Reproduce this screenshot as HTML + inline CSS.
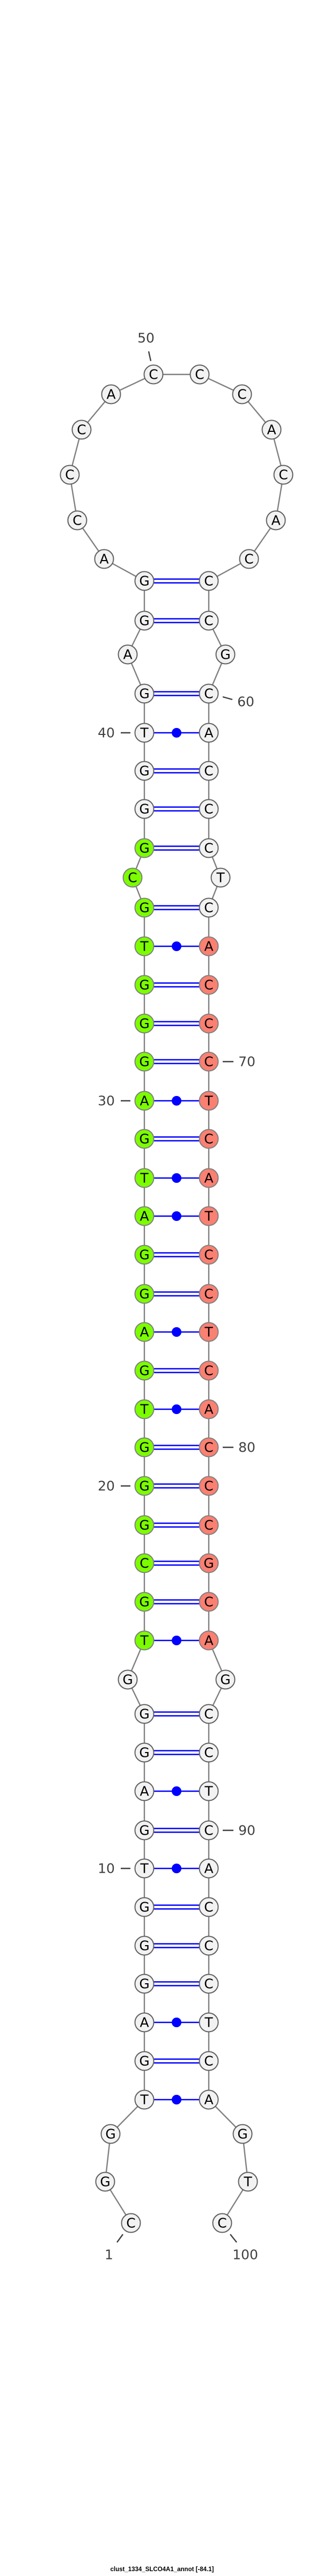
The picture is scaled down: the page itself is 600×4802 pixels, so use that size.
<!DOCTYPE html>
<html><head><meta charset="utf-8"><style>
html,body{margin:0;padding:0;background:#fff;width:600px;height:4802px;overflow:hidden}
svg{display:block}
.n{stroke:#606060;stroke-width:2;fill:#f2f2f2}
.g{fill:#7cfc00;stroke:#808080;stroke-width:2}
.s{fill:#fa8072;stroke:#808080;stroke-width:2}
.t{font-family:"DejaVu Sans","Liberation Sans",sans-serif;font-size:25px;fill:#000;text-anchor:middle;dominant-baseline:central}
.l{font-family:"DejaVu Sans","Liberation Sans",sans-serif;font-size:25px;fill:#404040;text-anchor:middle;dominant-baseline:central}
.bp{stroke:#0000ff;stroke-width:2.4}
</style></head><body>
<svg width="600" height="4802" viewBox="0 0 600 4802" xmlns="http://www.w3.org/2000/svg">
<polyline fill="none" stroke="#808080" stroke-width="2.4" points="244,4144 196,4067 206,3978 269,3914 269,3195 238,3131 269,3058 269,1692 247,1636 269,1581 269,1293 238,1220 269,1157 269,1083 194,1042 144,970 130,885 152,801 207,735 286,698 372,698 451,735 506,801 528,885 514,970 464,1042 389,1083 389,1157 420,1220 389,1293 389,1581 411,1636 389,1692 389,3058 420,3131 389,3195 389,3914 452,3978 462,4067 414,4144"/>
<g id="pairs"></g>
<g>
<!-- double pairs -->
<g class="bp">
<line x1="287" x2="371" y1="1079.5" y2="1079.5"/><line x1="287" x2="371" y1="1086.5" y2="1086.5"/>
<line x1="287" x2="371" y1="1153.5" y2="1153.5"/><line x1="287" x2="371" y1="1160.5" y2="1160.5"/>
<line x1="287" x2="371" y1="1289.5" y2="1289.5"/><line x1="287" x2="371" y1="1296.5" y2="1296.5"/>
<line x1="287" x2="371" y1="1433.5" y2="1433.5"/><line x1="287" x2="371" y1="1440.5" y2="1440.5"/>
<line x1="287" x2="371" y1="1504.5" y2="1504.5"/><line x1="287" x2="371" y1="1511.5" y2="1511.5"/>
<line x1="287" x2="371" y1="1577.5" y2="1577.5"/><line x1="287" x2="371" y1="1584.5" y2="1584.5"/>
<line x1="287" x2="371" y1="1688.5" y2="1688.5"/><line x1="287" x2="371" y1="1695.5" y2="1695.5"/>
<line x1="287" x2="371" y1="1832.5" y2="1832.5"/><line x1="287" x2="371" y1="1839.5" y2="1839.5"/>
<line x1="287" x2="371" y1="1904.5" y2="1904.5"/><line x1="287" x2="371" y1="1911.5" y2="1911.5"/>
<line x1="287" x2="371" y1="1975.5" y2="1975.5"/><line x1="287" x2="371" y1="1982.5" y2="1982.5"/>
<line x1="287" x2="371" y1="2119.5" y2="2119.5"/><line x1="287" x2="371" y1="2126.5" y2="2126.5"/>
<line x1="287" x2="371" y1="2335.5" y2="2335.5"/><line x1="287" x2="371" y1="2342.5" y2="2342.5"/>
<line x1="287" x2="371" y1="2408.5" y2="2408.5"/><line x1="287" x2="371" y1="2415.5" y2="2415.5"/>
<line x1="287" x2="371" y1="2551.5" y2="2551.5"/><line x1="287" x2="371" y1="2558.5" y2="2558.5"/>
<line x1="287" x2="371" y1="2694.5" y2="2694.5"/><line x1="287" x2="371" y1="2701.5" y2="2701.5"/>
<line x1="287" x2="371" y1="2766.5" y2="2766.5"/><line x1="287" x2="371" y1="2773.5" y2="2773.5"/>
<line x1="287" x2="371" y1="2839.5" y2="2839.5"/><line x1="287" x2="371" y1="2846.5" y2="2846.5"/>
<line x1="287" x2="371" y1="2910.5" y2="2910.5"/><line x1="287" x2="371" y1="2917.5" y2="2917.5"/>
<line x1="287" x2="371" y1="2982.5" y2="2982.5"/><line x1="287" x2="371" y1="2989.5" y2="2989.5"/>
<line x1="287" x2="371" y1="3191.5" y2="3191.5"/><line x1="287" x2="371" y1="3198.5" y2="3198.5"/>
<line x1="287" x2="371" y1="3263.5" y2="3263.5"/><line x1="287" x2="371" y1="3270.5" y2="3270.5"/>
<line x1="287" x2="371" y1="3408.5" y2="3408.5"/><line x1="287" x2="371" y1="3415.5" y2="3415.5"/>
<line x1="287" x2="371" y1="3551.5" y2="3551.5"/><line x1="287" x2="371" y1="3558.5" y2="3558.5"/>
<line x1="287" x2="371" y1="3623.5" y2="3623.5"/><line x1="287" x2="371" y1="3630.5" y2="3630.5"/>
<line x1="287" x2="371" y1="3694.5" y2="3694.5"/><line x1="287" x2="371" y1="3701.5" y2="3701.5"/>
<line x1="287" x2="371" y1="3838.5" y2="3838.5"/><line x1="287" x2="371" y1="3845.5" y2="3845.5"/>
<!-- wobble -->
<line x1="287" x2="371" y1="1366" y2="1366"/>
<line x1="287" x2="371" y1="1764" y2="1764"/>
<line x1="287" x2="371" y1="2052" y2="2052"/>
<line x1="287" x2="371" y1="2196" y2="2196"/>
<line x1="287" x2="371" y1="2267" y2="2267"/>
<line x1="287" x2="371" y1="2483" y2="2483"/>
<line x1="287" x2="371" y1="2627" y2="2627"/>
<line x1="287" x2="371" y1="3058" y2="3058"/>
<line x1="287" x2="371" y1="3339" y2="3339"/>
<line x1="287" x2="371" y1="3483" y2="3483"/>
<line x1="287" x2="371" y1="3770" y2="3770"/>
<line x1="287" x2="371" y1="3914" y2="3914"/>
</g>
<g fill="#0000ff">
<circle cx="329" cy="1366" r="9"/><circle cx="329" cy="1764" r="9"/><circle cx="329" cy="2052" r="9"/>
<circle cx="329" cy="2196" r="9"/><circle cx="329" cy="2267" r="9"/><circle cx="329" cy="2483" r="9"/>
<circle cx="329" cy="2627" r="9"/><circle cx="329" cy="3058" r="9"/><circle cx="329" cy="3339" r="9"/>
<circle cx="329" cy="3483" r="9"/><circle cx="329" cy="3770" r="9"/><circle cx="329" cy="3914" r="9"/>
</g>
</g>
<!-- ticks and labels -->
<g stroke="#404040" stroke-width="2.4">
<line x1="277" y1="655" x2="281" y2="673"/>
<line x1="415" y1="1299" x2="433" y2="1304"/>
<line x1="225" y1="1366" x2="243" y2="1366"/>
<line x1="415" y1="1979" x2="435" y2="1979"/>
<line x1="225" y1="2052" x2="243" y2="2052"/>
<line x1="415" y1="2698" x2="435" y2="2698"/>
<line x1="225" y1="2770" x2="243" y2="2770"/>
<line x1="415" y1="3412" x2="435" y2="3412"/>
<line x1="225" y1="3483" x2="243" y2="3483"/>
<line x1="229" y1="4165" x2="218" y2="4180"/>
<line x1="429" y1="4165" x2="441" y2="4180"/>
</g>
<g class="l">
<text x="272" y="630">50</text>
<text x="458" y="1308">60</text>
<text x="198" y="1366">40</text>
<text x="460" y="1979">70</text>
<text x="198" y="2052">30</text>
<text x="460" y="2698">80</text>
<text x="198" y="2770">20</text>
<text x="460" y="3412">90</text>
<text x="198" y="3483">10</text>
<text x="203" y="4203">1</text>
<text x="457" y="4203">100</text>
</g>
<!-- nodes -->
<g id="nodes">
<g class="n">
<circle cx="244" cy="4144" r="17.5"/><circle cx="196" cy="4067" r="17.5"/><circle cx="206" cy="3978" r="17.5"/>
<circle cx="414" cy="4144" r="17.5"/><circle cx="462" cy="4067" r="17.5"/><circle cx="452" cy="3978" r="17.5"/>
<circle cx="238" cy="3131" r="17.5"/><circle cx="420" cy="3131" r="17.5"/>
<circle cx="238" cy="1220" r="17.5"/><circle cx="420" cy="1220" r="17.5"/><circle cx="411" cy="1636" r="17.5"/>
<circle cx="194" cy="1042" r="17.5"/><circle cx="144" cy="970" r="17.5"/><circle cx="130" cy="885" r="17.5"/>
<circle cx="152" cy="801" r="17.5"/><circle cx="207" cy="735" r="17.5"/><circle cx="286" cy="698" r="17.5"/>
<circle cx="372" cy="698" r="17.5"/><circle cx="451" cy="735" r="17.5"/><circle cx="506" cy="801" r="17.5"/>
<circle cx="528" cy="885" r="17.5"/><circle cx="514" cy="970" r="17.5"/><circle cx="464" cy="1042" r="17.5"/>
</g>
</g>
<g class="t">
<text x="244" y="4144">C</text><text x="196" y="4067">G</text><text x="206" y="3978">G</text>
<text x="414" y="4144">C</text><text x="462" y="4067">T</text><text x="452" y="3978">G</text>
<text x="238" y="3131">G</text><text x="420" y="3131">G</text>
<text x="238" y="1220">A</text><text x="420" y="1220">G</text><text x="411" y="1636">T</text>
<text x="194" y="1042">A</text><text x="144" y="970">C</text><text x="130" y="885">C</text>
<text x="152" y="801">C</text><text x="207" y="735">A</text><text x="286" y="698">C</text>
<text x="372" y="698">C</text><text x="451" y="735">C</text><text x="506" y="801">A</text>
<text x="528" y="885">C</text><text x="514" y="970">A</text><text x="464" y="1042">C</text>
</g>
<!-- stem rows: left/right -->
<g>
<circle class="g" cx="247" cy="1636" r="17.5"/><text class="t" x="247" y="1636">C</text>
</g>
<g id="stem"></g>
<g>
<!-- white rows -->
<circle class="n" cx="269" cy="1083" r="17.5"/><circle class="n" cx="389" cy="1083" r="17.5"/>
<circle class="n" cx="269" cy="1157" r="17.5"/><circle class="n" cx="389" cy="1157" r="17.5"/>
<circle class="n" cx="269" cy="1293" r="17.5"/><circle class="n" cx="389" cy="1293" r="17.5"/>
<circle class="n" cx="269" cy="1366" r="17.5"/><circle class="n" cx="389" cy="1366" r="17.5"/>
<circle class="n" cx="269" cy="1437" r="17.5"/><circle class="n" cx="389" cy="1437" r="17.5"/>
<circle class="n" cx="269" cy="1508" r="17.5"/><circle class="n" cx="389" cy="1508" r="17.5"/>
<circle class="g" cx="269" cy="1581" r="17.5"/><circle class="n" cx="389" cy="1581" r="17.5"/>
<circle class="g" cx="269" cy="1692" r="17.5"/><circle class="n" cx="389" cy="1692" r="17.5"/>
<circle class="g" cx="269" cy="1764" r="17.5"/><circle class="s" cx="389" cy="1764" r="17.5"/>
<circle class="g" cx="269" cy="1836" r="17.5"/><circle class="s" cx="389" cy="1836" r="17.5"/>
<circle class="g" cx="269" cy="1908" r="17.5"/><circle class="s" cx="389" cy="1908" r="17.5"/>
<circle class="g" cx="269" cy="1979" r="17.5"/><circle class="s" cx="389" cy="1979" r="17.5"/>
<circle class="g" cx="269" cy="2052" r="17.5"/><circle class="s" cx="389" cy="2052" r="17.5"/>
<circle class="g" cx="269" cy="2123" r="17.5"/><circle class="s" cx="389" cy="2123" r="17.5"/>
<circle class="g" cx="269" cy="2196" r="17.5"/><circle class="s" cx="389" cy="2196" r="17.5"/>
<circle class="g" cx="269" cy="2267" r="17.5"/><circle class="s" cx="389" cy="2267" r="17.5"/>
<circle class="g" cx="269" cy="2339" r="17.5"/><circle class="s" cx="389" cy="2339" r="17.5"/>
<circle class="g" cx="269" cy="2412" r="17.5"/><circle class="s" cx="389" cy="2412" r="17.5"/>
<circle class="g" cx="269" cy="2483" r="17.5"/><circle class="s" cx="389" cy="2483" r="17.5"/>
<circle class="g" cx="269" cy="2555" r="17.5"/><circle class="s" cx="389" cy="2555" r="17.5"/>
<circle class="g" cx="269" cy="2627" r="17.5"/><circle class="s" cx="389" cy="2627" r="17.5"/>
<circle class="g" cx="269" cy="2698" r="17.5"/><circle class="s" cx="389" cy="2698" r="17.5"/>
<circle class="g" cx="269" cy="2770" r="17.5"/><circle class="s" cx="389" cy="2770" r="17.5"/>
<circle class="g" cx="269" cy="2843" r="17.5"/><circle class="s" cx="389" cy="2843" r="17.5"/>
<circle class="g" cx="269" cy="2914" r="17.5"/><circle class="s" cx="389" cy="2914" r="17.5"/>
<circle class="g" cx="269" cy="2986" r="17.5"/><circle class="s" cx="389" cy="2986" r="17.5"/>
<circle class="g" cx="269" cy="3058" r="17.5"/><circle class="s" cx="389" cy="3058" r="17.5"/>
<circle class="n" cx="269" cy="3195" r="17.5"/><circle class="n" cx="389" cy="3195" r="17.5"/>
<circle class="n" cx="269" cy="3267" r="17.5"/><circle class="n" cx="389" cy="3267" r="17.5"/>
<circle class="n" cx="269" cy="3339" r="17.5"/><circle class="n" cx="389" cy="3339" r="17.5"/>
<circle class="n" cx="269" cy="3412" r="17.5"/><circle class="n" cx="389" cy="3412" r="17.5"/>
<circle class="n" cx="269" cy="3483" r="17.5"/><circle class="n" cx="389" cy="3483" r="17.5"/>
<circle class="n" cx="269" cy="3555" r="17.5"/><circle class="n" cx="389" cy="3555" r="17.5"/>
<circle class="n" cx="269" cy="3627" r="17.5"/><circle class="n" cx="389" cy="3627" r="17.5"/>
<circle class="n" cx="269" cy="3698" r="17.5"/><circle class="n" cx="389" cy="3698" r="17.5"/>
<circle class="n" cx="269" cy="3770" r="17.5"/><circle class="n" cx="389" cy="3770" r="17.5"/>
<circle class="n" cx="269" cy="3842" r="17.5"/><circle class="n" cx="389" cy="3842" r="17.5"/>
<circle class="n" cx="269" cy="3914" r="17.5"/><circle class="n" cx="389" cy="3914" r="17.5"/>
</g>
<g class="t">
<text x="269" y="1083">G</text><text x="389" y="1083">C</text>
<text x="269" y="1157">G</text><text x="389" y="1157">C</text>
<text x="269" y="1293">G</text><text x="389" y="1293">C</text>
<text x="269" y="1366">T</text><text x="389" y="1366">A</text>
<text x="269" y="1437">G</text><text x="389" y="1437">C</text>
<text x="269" y="1508">G</text><text x="389" y="1508">C</text>
<text x="269" y="1581">G</text><text x="389" y="1581">C</text>
<text x="269" y="1692">G</text><text x="389" y="1692">C</text>
<text x="269" y="1764">T</text><text x="389" y="1764">A</text>
<text x="269" y="1836">G</text><text x="389" y="1836">C</text>
<text x="269" y="1908">G</text><text x="389" y="1908">C</text>
<text x="269" y="1979">G</text><text x="389" y="1979">C</text>
<text x="269" y="2052">A</text><text x="389" y="2052">T</text>
<text x="269" y="2123">G</text><text x="389" y="2123">C</text>
<text x="269" y="2196">T</text><text x="389" y="2196">A</text>
<text x="269" y="2267">A</text><text x="389" y="2267">T</text>
<text x="269" y="2339">G</text><text x="389" y="2339">C</text>
<text x="269" y="2412">G</text><text x="389" y="2412">C</text>
<text x="269" y="2483">A</text><text x="389" y="2483">T</text>
<text x="269" y="2555">G</text><text x="389" y="2555">C</text>
<text x="269" y="2627">T</text><text x="389" y="2627">A</text>
<text x="269" y="2698">G</text><text x="389" y="2698">C</text>
<text x="269" y="2770">G</text><text x="389" y="2770">C</text>
<text x="269" y="2843">G</text><text x="389" y="2843">C</text>
<text x="269" y="2914">C</text><text x="389" y="2914">G</text>
<text x="269" y="2986">G</text><text x="389" y="2986">C</text>
<text x="269" y="3058">T</text><text x="389" y="3058">A</text>
<text x="269" y="3195">G</text><text x="389" y="3195">C</text>
<text x="269" y="3267">G</text><text x="389" y="3267">C</text>
<text x="269" y="3339">A</text><text x="389" y="3339">T</text>
<text x="269" y="3412">G</text><text x="389" y="3412">C</text>
<text x="269" y="3483">T</text><text x="389" y="3483">A</text>
<text x="269" y="3555">G</text><text x="389" y="3555">C</text>
<text x="269" y="3627">G</text><text x="389" y="3627">C</text>
<text x="269" y="3698">G</text><text x="389" y="3698">C</text>
<text x="269" y="3770">A</text><text x="389" y="3770">T</text>
<text x="269" y="3842">G</text><text x="389" y="3842">C</text>
<text x="269" y="3914">T</text><text x="389" y="3914">A</text>
</g>
<text x="302" y="4793" font-family="Liberation Sans, sans-serif" font-weight="bold" font-size="11.5" text-anchor="middle" fill="#000">clust_1334_SLCO4A1_annot [-84.1]</text>
</svg>
</body></html>
